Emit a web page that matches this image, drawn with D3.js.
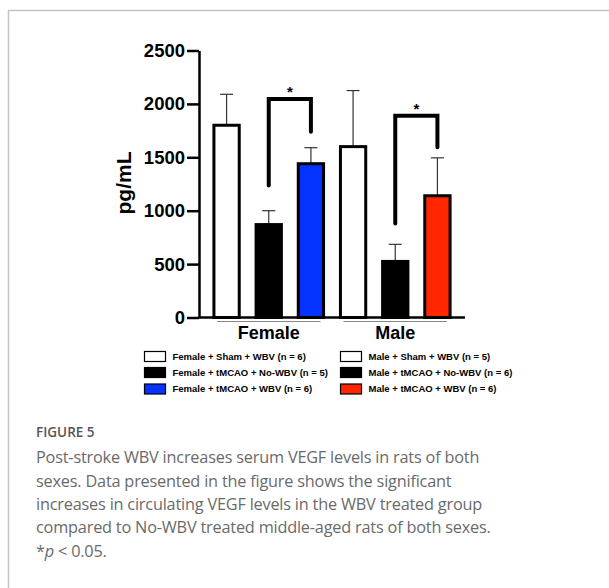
<!DOCTYPE html>
<html lang="en">
<head>
<meta charset="UTF-8">
<title>VEGF</title>
<script src="https://d3js.org/d3.v7.min.js"></script>
<style>
  body { margin: 0; background: #fff; }
  svg { display: block; }
</style>
</head>
<body>
<svg width="609" height="588"></svg>
<script>
    // data
    const groups = ["Female", "Male"];
    const bars = ["F-sham", "F-tmcao", "F-wbv", "M-sham", "M-tmcao", "M-wbv"];
    const means = [1800, 870, 1440, 1600, 525, 1140];
    const errTop = [2090, 1000, 1590, 2125, 685, 1495];
    const fills = ["#ffffff", "#000000", "#0433ff", "#ffffff", "#000000", "#ff2600"];
    const yTicks = [0, 500, 1000, 1500, 2000, 2500];
    const legendLabels = [
        "Female + Sham + WBV (n = 6)", "Female + tMCAO + No-WBV (n = 5)", "Female + tMCAO + WBV (n = 6)",
        "Male + Sham + WBV (n = 5)", "Male + tMCAO + No-WBV (n = 6)", "Male + tMCAO + WBV (n = 6)"
    ];
    // brackets: [left bar, right bar, left foot, top, right foot]
    const brackets = [
        [1, 2, 1235, 2045, 1740],
        [4, 5, 880, 1890, 1595]
    ];
    const captionLines = [
        "Post-stroke WBV increases serum VEGF levels in rats of both",
        "sexes. Data presented in the figure shows the significant",
        "increases in circulating VEGF levels in the WBV treated group",
        "compared to No-WBV treated middle-aged rats of both sexes."
    ];

    const svg = d3.select("svg");
    const bold = "Liberation Sans, Arial, sans-serif";

    // card border
    svg.append("path")
        .attr("d", "M8.5,588 V10.5 H609")
        .attr("fill", "none")
        .attr("stroke", "#c4c4c4")
        .attr("stroke-width", 1.5);

    const x = d3.scaleBand().domain(bars).range([205.5, 458.5]).paddingInner(0.4).paddingOuter(0.2);
    const y = d3.scaleLinear().domain([0, 2500]).range([317.5, 50.5]);

    const g = svg.append("g");

    // error bars (drawn first, bars cover the lower half)
    g.selectAll(".err").data(bars).join("g").each(function (d, i) {
        const cx = x(d) + x.bandwidth() / 2;
        const s = d3.select(this);
        s.append("line").attr("x1", cx).attr("x2", cx)
            .attr("y1", y(means[i])).attr("y2", y(errTop[i]))
            .attr("stroke", "#333").attr("stroke-width", 1.2);
        s.append("line").attr("x1", cx - 6.5).attr("x2", cx + 6.5)
            .attr("y1", y(errTop[i])).attr("y2", y(errTop[i]))
            .attr("stroke", "#333").attr("stroke-width", 1.2);
    });

    g.selectAll(".bar").data(bars).join("rect")
        .attr("x", d => x(d))
        .attr("y", (d, i) => y(means[i]))
        .attr("width", x.bandwidth())
        .attr("height", (d, i) => y(0) - y(means[i]))
        .attr("fill", (d, i) => fills[i])
        .attr("stroke", "#000")
        .attr("stroke-width", 3);

    // y axis
    const yAxis = svg.append("g")
        .attr("transform", "translate(199,0)")
        .call(d3.axisLeft(y).tickValues(yTicks).tickFormat(d3.format("d"))
            .tickSize(12).tickPadding(2).tickSizeOuter(0));
    yAxis.select(".domain").attr("stroke-width", 2.5);
    yAxis.selectAll(".tick line").attr("stroke-width", 2.5);
    yAxis.selectAll("text")
        .attr("font-family", bold)
        .attr("font-weight", "bold")
        .attr("font-size", 18.5)
        .attr("fill", "#000");

    // x baseline
    svg.append("line").attr("x1", 198).attr("x2", 465)
        .attr("y1", y(0)).attr("y2", y(0))
        .attr("stroke", "#000").attr("stroke-width", 2.5);

    // group underlines and labels
    groups.forEach((gr, k) => {
        const first = bars[k * 3], last = bars[k * 3 + 2];
        const x0 = x(first) + 3, x1 = x(last) + x.bandwidth() - 3;
        svg.append("line").attr("x1", x0).attr("x2", x1)
            .attr("y1", 321.5).attr("y2", 321.5)
            .attr("stroke", "#888").attr("stroke-width", 1);
        svg.append("text")
            .attr("x", (x0 + x1) / 2).attr("y", 338.5)
            .attr("text-anchor", "middle")
            .attr("font-family", bold)
            .attr("font-weight", "bold").attr("font-size", 18)
            .text(gr);
    });

    // y label
    svg.append("text")
        .attr("transform", "translate(131,183) rotate(-90)")
        .attr("text-anchor", "middle")
        .attr("font-family", bold)
        .attr("font-weight", "bold").attr("font-size", 21)
        .text("pg/mL");

    // significance brackets
    brackets.forEach(b => {
        const lx = x(bars[b[0]]) + x.bandwidth() / 2;
        const rx = x(bars[b[1]]) + x.bandwidth() / 2;
        svg.append("path")
            .attr("d", `M${lx},${y(b[2])} V${y(b[3])} H${rx} V${y(b[4])}`)
            .attr("fill", "none").attr("stroke", "#000")
            .attr("stroke-width", 4).attr("stroke-linecap", "round").attr("stroke-linejoin", "miter");
        svg.append("text")
            .attr("x", (lx + rx) / 2).attr("y", y(b[3]) - 2)
            .attr("text-anchor", "middle")
            .attr("font-family", bold)
            .attr("font-weight", "bold").attr("font-size", 15)
            .text("*");
    });

    // legend
    const legRows = [356.5, 372.5, 389];
    legendLabels.forEach((lab, i) => {
        const col = Math.floor(i / 3), row = i % 3;
        const bx = col === 0 ? 144.5 : 340.5;
        svg.append("rect")
            .attr("x", bx).attr("y", legRows[row] - 5)
            .attr("width", 21).attr("height", 10)
            .attr("fill", fills[i]).attr("stroke", "#000").attr("stroke-width", 1.2);
        svg.append("text")
            .attr("x", bx + 28).attr("y", legRows[row] + 3.3)
            .attr("font-family", bold)
            .attr("font-weight", "bold").attr("font-size", 9.5)
            .text(lab);
    });

    // caption
    svg.append("text")
        .attr("x", 36).attr("y", 437)
        .attr("font-family", "Open Sans, sans-serif")
        .attr("font-weight", 600).attr("font-size", 13.5)
        .attr("fill", "#555")
        .text("FIGURE 5");

    const cap = svg.append("g")
        .attr("font-family", "Open Sans, sans-serif")
        .attr("font-size", 16.3)
        .attr("letter-spacing", -0.2)
        .attr("fill", "#6a6a6a");
    captionLines.forEach((t, i) => {
        cap.append("text").attr("x", 36).attr("y", 463.3 + i * 23.3).text(t);
    });
    const last = cap.append("text").attr("x", 36).attr("y", 463.3 + 4 * 23.3);
    last.append("tspan").text("*");
    last.append("tspan").attr("font-style", "italic").text("p");
    last.append("tspan").text(" < 0.05.");
</script>
</body>
</html>
